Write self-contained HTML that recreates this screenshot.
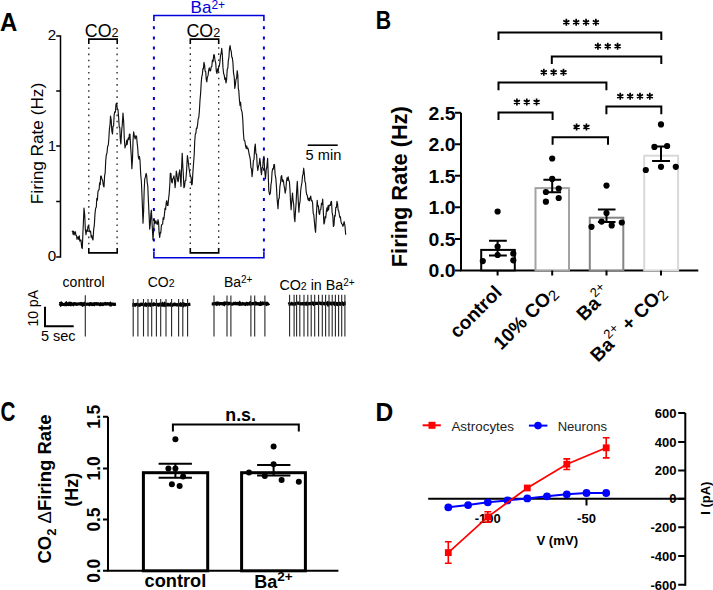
<!DOCTYPE html>
<html><head><meta charset="utf-8"><style>
html,body{margin:0;padding:0;background:#fff;}
svg{display:block;font-family:"Liberation Sans", sans-serif;}
</style></head><body>
<svg width="713" height="590" viewBox="0 0 713 590">
<rect width="713" height="590" fill="#fff"/>

<text transform="translate(0,31.4) scale(0.9,1)" font-size="26.6" font-weight="bold">A</text>
<path d="M60.5,35.2 V257.8 M56.2,35.9 H60.5 M56.2,91 H60.5 M56.2,146 H60.5 M56.2,201.5 H60.5 M56.2,257.1 H60.5" stroke="#000" stroke-width="1.5" fill="none"/>
<g font-size="15.2" text-anchor="end"><text x="56.3" y="40.1">2</text><text x="56.3" y="150.9">1</text><text x="56.3" y="261.3">0</text></g>
<text transform="translate(43,143.5) rotate(-90)" text-anchor="middle" font-size="17.2">Firing Rate (Hz)</text>
<text x="84.8" y="36.9" font-size="17.8">CO<tspan font-size="12.6">2</tspan></text>
<text x="186.5" y="36.8" font-size="17.8">CO<tspan font-size="12.6">2</tspan></text>
<path d="M88.8,44 V39.1 H117.2 V44 M88.8,248 V252.9 H117.2 V248 M190.3,44 V39.1 H218.7 V44 M190.3,248 V252.9 H218.7 V248" stroke="#000" stroke-width="1.6" fill="none"/>
<path d="M88.8,47.5 V248 M117.1,47.5 V248 M190.3,47.2 V248 M218.7,47.2 V248" stroke="#222" stroke-width="1.3" stroke-dasharray="1.6 4.5" fill="none"/>
<text x="190.6" y="13.3" font-size="17" fill="#0000d8">Ba<tspan font-size="12" dy="-4.3">2+</tspan></text>
<path d="M153.9,21 V15.5 H263.9 V21 M153.9,252 V257.8 H263.9 V252" stroke="#0000d8" stroke-width="1.6" fill="none"/>
<path d="M153.9,26.3 V252 M263.9,26.3 V252" stroke="#0000d8" stroke-width="2" stroke-dasharray="3 7.1" fill="none"/>
<path d="M72.0,232.0 L72.6,231.2 L73.1,234.3 L73.7,231.2 L74.2,234.9 L74.8,233.0 L75.4,231.8 L75.9,235.3 L76.5,235.4 L77.0,239.3 L77.6,237.5 L78.2,236.9 L78.7,239.5 L79.3,235.8 L79.8,241.2 L80.4,240.0 L81.0,240.1 L81.7,247.4 L82.3,248.6 L82.9,232.9 L83.4,222.3 L84.0,208.0 L84.7,214.8 L85.3,228.6 L86.0,234.7 L86.7,230.0 L87.3,231.3 L88.0,226.0 L88.7,225.8 L89.3,230.5 L90.0,232.0 L90.6,231.1 L91.2,237.2 L91.8,235.6 L92.4,238.8 L93.0,240.0 L93.7,229.2 L94.3,225.7 L95.0,213.6 L95.7,208.0 L96.3,207.2 L96.8,198.4 L97.4,200.2 L97.9,192.2 L98.5,190.0 L99.1,189.8 L99.6,182.8 L100.2,184.6 L100.7,176.0 L101.3,176.0 L102.0,179.3 L102.7,180.8 L103.3,185.2 L104.0,187.0 L104.6,175.9 L105.2,172.6 L105.7,160.9 L106.3,155.0 L107.0,152.8 L107.6,146.6 L108.3,145.0 L108.8,139.2 L109.4,129.2 L110.0,125.2 L110.5,116.0 L111.2,120.0 L111.8,130.9 L112.5,134.0 L113.0,126.2 L113.6,125.9 L114.2,114.6 L114.7,111.8 L115.4,112.2 L116.0,104.0 L116.7,103.4 L117.3,108.7 L118.0,109.7 L118.6,117.0 L119.2,126.8 L119.8,127.6 L120.3,139.2 L120.9,144.0 L121.6,131.3 L122.3,124.2 L123.0,113.0 L123.7,122.0 L124.3,138.3 L125.0,148.0 L125.6,145.2 L126.1,145.2 L126.7,140.2 L127.2,144.5 L127.8,139.7 L128.3,137.8 L128.9,139.6 L129.4,134.1 L130.0,134.2 L130.6,146.4 L131.3,156.0 L131.9,168.6 L132.5,158.9 L133.0,141.3 L133.6,131.9 L134.4,135.9 L135.2,139.0 L135.9,135.7 L136.6,136.6 L137.2,143.8 L137.7,147.7 L138.3,156.8 L138.9,159.2 L139.4,156.3 L140.0,160.3 L140.7,174.1 L141.4,181.7 L142.2,200.7 L143.0,223.2 L143.6,211.8 L144.1,192.7 L144.7,179.3 L145.4,176.9 L146.1,173.4 L146.7,175.7 L147.2,182.5 L147.8,186.4 L148.5,203.0 L149.1,215.2 L149.7,229.2 L150.3,224.3 L150.8,214.5 L151.4,210.2 L152.2,225.8 L153.0,239.8 L153.7,229.3 L154.4,219.7 L155.1,223.7 L155.9,220.8 L156.6,223.2 L157.3,224.5 L158.0,219.7 L158.6,222.7 L159.1,233.0 L159.7,237.5 L160.3,232.6 L160.8,232.8 L161.4,225.5 L162.0,224.4 L162.6,224.1 L163.2,217.7 L163.8,219.4 L164.4,214.9 L165.0,208.3 L165.6,209.6 L166.2,202.7 L166.8,200.7 L167.4,205.4 L168.0,205.4 L168.6,198.5 L169.2,193.6 L169.8,184.7 L170.3,173.4 L170.9,173.4 L171.6,181.5 L172.2,182.9 L172.8,178.6 L173.3,178.5 L173.9,175.8 L174.5,180.2 L175.1,187.6 L175.7,181.3 L176.3,171.0 L176.9,174.2 L177.6,180.2 L178.2,181.7 L179.0,173.6 L179.8,169.8 L180.4,178.6 L181.0,186.4 L181.6,167.7 L182.2,153.2 L182.8,166.3 L183.3,173.9 L183.9,187.6 L184.5,186.6 L185.2,180.5 L185.8,180.5 L186.6,170.5 L187.4,155.6 L188.2,161.2 L188.9,167.5 L189.7,172.7 L190.5,177.0 L191.1,177.1 L191.6,184.8 L192.2,184.1 L192.9,172.4 L193.6,162.7 L194.2,154.8 L194.7,141.7 L195.3,134.2 L195.9,133.1 L196.4,128.1 L197.0,128.3 L197.6,124.7 L198.2,118.7 L198.8,117.5 L199.4,110.8 L200.0,100.3 L200.6,93.6 L201.2,82.9 L201.8,76.3 L202.3,75.1 L202.9,68.6 L203.4,68.9 L204.0,62.4 L204.6,65.1 L205.1,71.2 L205.7,71.5 L206.2,79.1 L206.8,82.0 L207.4,77.1 L208.1,75.4 L208.7,69.8 L209.3,67.8 L210.0,71.0 L210.6,70.7 L211.2,66.8 L211.8,66.7 L212.4,60.1 L213.1,61.7 L213.7,54.8 L214.3,54.9 L215.0,60.3 L215.7,62.9 L216.3,71.0 L217.0,73.5 L217.6,68.8 L218.2,71.4 L218.7,66.9 L219.3,66.0 L219.9,62.3 L220.5,55.4 L221.1,53.7 L221.7,48.4 L222.3,54.1 L223.0,67.9 L223.6,73.5 L224.2,75.0 L224.8,79.3 L225.4,77.9 L226.0,82.9 L226.6,79.7 L227.2,69.6 L227.8,68.2 L228.3,60.9 L228.9,57.4 L229.5,48.3 L230.1,45.6 L230.7,50.0 L231.2,51.0 L231.8,57.2 L232.3,57.5 L232.9,62.4 L233.5,72.6 L234.2,76.8 L234.8,88.4 L235.4,84.7 L236.0,79.2 L236.6,78.2 L237.2,70.7 L237.8,75.1 L238.3,88.3 L238.8,90.8 L239.4,99.6 L240.0,105.5 L240.6,102.2 L241.1,108.9 L241.7,110.8 L242.2,112.9 L242.8,120.0 L243.4,132.7 L244.0,140.0 L244.8,140.8 L245.6,146.0 L246.2,148.3 L246.7,145.9 L247.2,148.8 L247.8,148.0 L248.4,149.8 L249.1,154.0 L249.7,156.3 L250.3,159.4 L250.9,167.6 L251.5,168.9 L252.1,176.6 L252.7,170.5 L253.4,160.6 L254.0,159.4 L254.7,147.5 L255.3,144.0 L255.9,153.5 L256.6,154.3 L257.2,165.8 L257.8,170.5 L258.5,166.1 L259.1,164.8 L259.8,158.3 L260.4,162.9 L260.9,170.3 L261.5,174.6 L262.1,167.8 L262.7,167.3 L263.3,159.4 L263.9,156.3 L264.7,170.5 L265.5,178.6 L266.2,169.8 L266.9,166.4 L267.6,158.3 L268.2,173.5 L268.8,190.8 L269.6,194.7 L270.4,193.1 L271.0,184.3 L271.5,181.5 L272.1,171.8 L272.7,168.7 L273.3,169.1 L273.9,164.5 L274.5,164.6 L275.1,174.4 L275.8,178.1 L276.4,186.0 L277.2,199.9 L278.0,208.6 L278.6,199.2 L279.2,198.4 L279.9,186.7 L280.5,183.2 L281.1,176.5 L281.7,175.6 L282.3,181.7 L282.9,179.7 L283.5,181.3 L284.1,186.3 L284.6,188.1 L285.2,193.1 L285.8,189.8 L286.5,181.3 L287.1,177.7 L287.7,180.3 L288.2,176.9 L288.8,180.7 L289.4,181.3 L290.0,190.3 L290.5,201.0 L291.1,209.8 L291.8,200.8 L292.5,193.1 L293.1,200.7 L293.7,204.2 L294.3,217.3 L294.9,221.6 L295.5,211.0 L296.1,203.2 L296.7,190.2 L297.3,181.3 L298.1,197.9 L298.9,212.1 L299.5,204.3 L300.1,201.2 L300.7,190.5 L301.3,186.0 L301.9,182.9 L302.5,176.2 L303.1,173.9 L303.7,168.2 L304.3,173.2 L304.9,181.4 L305.5,182.8 L306.1,190.8 L306.7,194.6 L307.2,195.0 L307.8,198.7 L308.4,200.3 L309.0,198.1 L309.5,200.8 L310.1,197.9 L310.7,196.1 L311.4,200.9 L312.0,200.3 L312.6,203.0 L313.2,213.1 L313.8,214.7 L314.4,221.6 L315.0,228.3 L315.6,232.3 L316.4,214.6 L317.2,200.3 L317.8,206.2 L318.4,205.9 L319.0,213.3 L319.6,214.5 L320.2,209.8 L320.8,209.4 L321.5,203.4 L322.1,204.5 L322.7,199.1 L323.3,211.0 L323.9,224.0 L324.5,222.6 L325.1,216.5 L325.7,217.9 L326.3,212.1 L326.9,207.9 L327.5,211.1 L328.1,205.6 L328.6,210.0 L329.2,205.1 L329.8,205.0 L330.4,205.4 L330.9,201.9 L331.5,201.4 L332.1,212.4 L332.8,215.8 L333.4,226.4 L334.0,225.1 L334.6,215.5 L335.2,216.1 L335.8,207.3 L336.4,207.5 L337.0,201.4 L337.6,204.1 L338.1,210.0 L338.7,210.9 L339.3,214.5 L339.9,217.6 L340.4,216.7 L341.0,221.6 L341.6,223.6 L342.3,224.2 L342.9,226.4 L343.5,224.6 L344.1,221.6 L344.9,225.3 L345.7,234.7" stroke="#111" stroke-width="1.15" fill="none" stroke-linejoin="round"/>
<path d="M307.7,145.2 H337.7" stroke="#000" stroke-width="1.6"/>
<text x="305.6" y="159.6" font-size="14.6">5 min</text>
<g font-size="14">
<text x="62.6" y="287.2">control</text>
<text x="147.7" y="287.2">CO<tspan font-size="10.5">2</tspan></text>
<text x="223.9" y="287.2">Ba<tspan font-size="10" dy="-4">2+</tspan></text>
<text x="279.4" y="290.3" font-size="14.3">CO<tspan font-size="10.5">2</tspan> in Ba<tspan font-size="10" dy="-4">2+</tspan></text>
</g>
<path d="M59.3,303.7 L60.0,303.5 L60.7,304.5 L61.4,303.6 L62.1,304.5 L62.8,304.3 L63.5,304.5 L64.2,304.6 L64.9,304.2 L65.6,304.5 L66.3,303.5 L67.0,304.4 L67.7,304.1 L68.4,304.4 L69.1,303.6 L69.8,304.4 L70.5,304.6 L71.2,303.6 L71.9,303.9 L72.6,304.2 L73.3,304.5 L74.0,303.8 L74.7,303.7 L75.4,303.8 L76.1,304.2 L76.8,304.4 L77.5,304.0 L78.2,303.9 L78.9,304.0 L79.6,303.9 L80.3,304.0 L81.0,303.6 L81.7,304.1 L82.4,304.7 L83.1,304.0 L83.8,304.4 L84.5,303.7 L85.2,304.3 L85.9,304.4 L86.6,304.3 L87.3,304.1 L88.0,304.1 L88.7,304.3 L89.4,304.6 L90.1,303.7 L90.8,303.6 L91.5,304.4 L92.2,304.6 L92.9,304.1 L93.6,304.0 L94.3,304.4 L95.0,303.7 L95.7,303.8 L96.4,303.7 L97.1,304.2 L97.8,303.9 L98.5,303.8 L99.2,304.3 L99.9,304.6 L100.6,303.9 L101.3,304.3 L102.0,304.0 L102.7,304.5 L103.4,304.2 L104.1,303.8 L104.8,303.8 L105.5,303.5 L106.2,304.1 L106.9,304.0 L107.6,303.7 L108.3,303.9 L109.0,303.9 L109.7,304.4 L110.4,303.7 L111.1,304.7 L111.8,304.1 L112.5,304.2 L113.2,304.1 L113.9,304.5 L114.6,304.5 L115.3,304.2 L116.0,304.1" stroke="#000" stroke-width="3.2" fill="none"/>
<path d="M132.3,304.9 L133.0,305.0 L133.7,304.5 L134.4,304.9 L135.1,305.2 L135.8,304.6 L136.5,304.3 L137.2,304.3 L137.9,304.9 L138.6,304.8 L139.3,305.2 L140.0,305.0 L140.7,304.3 L141.4,304.2 L142.1,304.3 L142.8,304.2 L143.5,304.8 L144.2,305.0 L144.9,305.1 L145.6,304.3 L146.3,305.0 L147.0,304.4 L147.7,304.5 L148.4,304.9 L149.1,304.1 L149.8,304.1 L150.5,305.0 L151.2,304.4 L151.9,304.4 L152.6,304.7 L153.3,304.8 L154.0,304.0 L154.7,304.4 L155.4,304.5 L156.1,304.6 L156.8,304.3 L157.5,304.7 L158.2,305.1 L158.9,304.5 L159.6,304.7 L160.3,304.1 L161.0,304.3 L161.7,304.8 L162.4,304.1 L163.1,305.1 L163.8,305.1 L164.5,304.1 L165.2,305.1 L165.9,304.4 L166.6,304.9 L167.3,304.9 L168.0,304.4 L168.7,304.8 L169.4,304.8 L170.1,305.0 L170.8,304.3 L171.5,304.9 L172.2,305.2 L172.9,304.8 L173.6,304.6 L174.3,304.1 L175.0,304.6 L175.7,304.4 L176.4,304.9 L177.1,304.8 L177.8,304.7 L178.5,304.2 L179.2,304.8 L179.9,304.8 L180.6,304.2 L181.3,305.1 L182.0,304.8 L182.7,304.1 L183.4,305.1 L184.1,304.2 L184.8,304.4 L185.5,304.9 L186.2,304.7 L186.9,304.7 L187.6,304.8 L188.3,304.5 L189.0,304.4 L189.7,304.2 L190.4,304.1" stroke="#000" stroke-width="3.2" fill="none"/>
<path d="M211.7,304.0 L212.4,304.0 L213.1,303.8 L213.8,304.0 L214.5,303.5 L215.2,303.4 L215.9,303.6 L216.6,304.1 L217.3,303.2 L218.0,303.7 L218.7,303.4 L219.4,304.0 L220.1,303.5 L220.8,303.5 L221.5,303.6 L222.2,303.7 L222.9,304.0 L223.6,303.5 L224.3,304.1 L225.0,303.2 L225.7,303.4 L226.4,303.2 L227.1,303.2 L227.8,304.0 L228.5,304.0 L229.2,303.3 L229.9,303.3 L230.6,303.6 L231.3,304.0 L232.0,304.1 L232.7,304.0 L233.4,303.8 L234.1,303.3 L234.8,303.6 L235.5,303.3 L236.2,303.7 L236.9,303.8 L237.6,303.3 L238.3,303.4 L239.0,304.0 L239.7,303.1 L240.4,304.1 L241.1,304.2 L241.8,304.2 L242.5,303.6 L243.2,303.8 L243.9,303.8 L244.6,303.9 L245.3,304.3 L246.0,303.9 L246.7,303.5 L247.4,304.1 L248.1,303.7 L248.8,303.8 L249.5,304.0 L250.2,303.1 L250.9,304.0 L251.6,303.9 L252.3,303.7 L253.0,303.7 L253.7,303.7 L254.4,303.3 L255.1,303.7 L255.8,303.1 L256.5,303.7 L257.2,303.9 L257.9,303.6 L258.6,303.8 L259.3,304.3 L260.0,304.2 L260.7,303.3 L261.4,304.1 L262.1,303.8 L262.8,303.2 L263.5,303.5 L264.2,303.4 L264.9,303.2 L265.6,303.7 L266.3,304.2 L267.0,303.5 L267.7,304.1 L268.4,303.9 L269.1,303.3" stroke="#000" stroke-width="3.2" fill="none"/>
<path d="M288.3,304.1 L289.0,303.8 L289.7,304.2 L290.4,304.0 L291.1,304.0 L291.8,303.5 L292.5,304.1 L293.2,304.2 L293.9,304.1 L294.6,303.6 L295.3,304.0 L296.0,303.7 L296.7,303.2 L297.4,303.2 L298.1,303.2 L298.8,303.3 L299.5,303.3 L300.2,303.7 L300.9,303.9 L301.6,303.7 L302.3,303.6 L303.0,303.9 L303.7,303.5 L304.4,303.7 L305.1,304.0 L305.8,303.6 L306.5,303.3 L307.2,304.2 L307.9,304.0 L308.6,303.5 L309.3,303.5 L310.0,303.7 L310.7,303.8 L311.4,303.4 L312.1,303.1 L312.8,303.4 L313.5,304.0 L314.2,303.3 L314.9,303.7 L315.6,303.3 L316.3,303.4 L317.0,303.3 L317.7,303.6 L318.4,303.3 L319.1,303.1 L319.8,303.2 L320.5,303.3 L321.2,303.7 L321.9,303.2 L322.6,303.1 L323.3,303.6 L324.0,303.6 L324.7,303.9 L325.4,303.2 L326.1,303.6 L326.8,303.6 L327.5,303.1 L328.2,304.3 L328.9,303.4 L329.6,303.2 L330.3,303.7 L331.0,303.3 L331.7,303.8 L332.4,303.5 L333.1,303.2 L333.8,303.2 L334.5,304.0 L335.2,303.4 L335.9,304.0 L336.6,303.7 L337.3,304.2 L338.0,303.5 L338.7,303.4 L339.4,303.4 L340.1,304.1 L340.8,303.9 L341.5,303.5 L342.2,303.2 L342.9,303.9 L343.6,304.3 L344.3,303.8 L345.0,303.1 L345.7,303.1" stroke="#000" stroke-width="3.2" fill="none"/>
<path d="M85.3,295.3 V336.4 M133.2,299 V336.6 M137.9,299 V336.6 M143.5,299 V336.6 M148,299 V336.6 M151.7,299 V336.6 M156.4,299 V336.6 M160.7,299 V336.6 M166,299 V336.6 M171.6,299 V336.6 M178.6,299 V336.6 M182.8,299 V336.6 M187.6,299 V336.6 M214,295.4 V336.4 M227,295.4 V336.4 M230.9,295.4 V336.4 M250.9,295.4 V336.4 M254.7,295.4 V336.4 M264.9,295.4 V336.4 M289.6,294.8 V336.4 M294.1,294.8 V336.4 M296.6,294.8 V336.4 M299.8,294.8 V336.4 M304,294.8 V336.4 M307.8,294.8 V336.4 M311.2,294.8 V336.4 M314.7,294.8 V336.4 M318.6,294.8 V336.4 M322.3,294.8 V336.4 M325.6,294.8 V336.4 M329,294.8 V336.4 M332.2,294.8 V336.4 M335.4,294.8 V336.4 M338.6,294.8 V336.4 M341.7,294.8 V336.4 M344.9,294.8 V336.4 " stroke="#262626" stroke-width="1.1" fill="none"/>
<path d="M45,306.7 V326.3 H73.7" stroke="#000" stroke-width="2" fill="none"/>
<text transform="translate(38,308.3) rotate(-90)" text-anchor="middle" font-size="14">10 pA</text>
<text x="40.9" y="340.7" font-size="14.5">5 sec</text>
<text transform="translate(375.8,28.6) scale(0.82,1)" font-size="26" font-weight="bold">B</text>
<path d="M461,112.8 V270.4 H698.3" stroke="#000" stroke-width="2" fill="none"/>
<path d="M455,112.8 H461 M455,144.3 H461 M455,175.8 H461 M455,207.3 H461 M455,238.9 H461 M455,270.4 H461 " stroke="#000" stroke-width="2"/>
<g font-size="17.6" font-weight="bold" text-anchor="end"><text x="455.6" y="119.8" textLength="27" lengthAdjust="spacingAndGlyphs">2.5</text><text x="455.6" y="151.3" textLength="27" lengthAdjust="spacingAndGlyphs">2.0</text><text x="455.6" y="182.8" textLength="27" lengthAdjust="spacingAndGlyphs">1.5</text><text x="455.6" y="214.3" textLength="27" lengthAdjust="spacingAndGlyphs">1.0</text><text x="455.6" y="245.9" textLength="27" lengthAdjust="spacingAndGlyphs">0.5</text><text x="455.6" y="277.4" textLength="27" lengthAdjust="spacingAndGlyphs">0.0</text></g>
<text transform="translate(406.7,186.7) rotate(-90)" text-anchor="middle" font-size="21.5" font-weight="bold" textLength="161" lengthAdjust="spacingAndGlyphs">Firing Rate (Hz)</text>
<rect x="481.2" y="249.9" width="33.6" height="20.5" fill="#fff" stroke="#000" stroke-width="2"/>
<rect x="535.5" y="188.1" width="33.5" height="82.3" fill="#fff" stroke="#a3a3a3" stroke-width="2"/>
<rect x="589.8" y="217.7" width="33.5" height="52.7" fill="#fff" stroke="#858585" stroke-width="2"/>
<rect x="644.2" y="155.7" width="33.9" height="114.7" fill="#fff" stroke="#d9d9d9" stroke-width="2"/>
<path d="M497.6,270.4 V275.6 M552.2,270.4 V275.6 M606.5,270.4 V275.6 M661,270.4 V275.6" stroke="#000" stroke-width="2"/>
<path d="M497.6,240.8 V255.6 M489,240.8 H506.8 M489,255.6 H506.8 M552.2,179.7 V192.2 M543.4,179.7 H561.1 M543.4,192.2 H561.1 M606.5,209.5 V221.9 M597.9,209.5 H615.5 M597.9,221.9 H615.5 M661,146.6 V161 M652.1,146.6 H670 M652.1,161 H670 " stroke="#000" stroke-width="2" fill="none"/>
<g fill="#000"><circle cx="497.6" cy="211.5" r="3.1"/><circle cx="497.6" cy="246.5" r="3.1"/><circle cx="497.6" cy="255" r="3.1"/><circle cx="482.8" cy="261.1" r="3.1"/><circle cx="513.3" cy="253.6" r="3.1"/><circle cx="513.3" cy="260.3" r="3.1"/><circle cx="552.2" cy="158.5" r="3.1"/><circle cx="552.2" cy="178.9" r="3.1"/><circle cx="545.9" cy="192" r="3.1"/><circle cx="558.7" cy="188.5" r="3.1"/><circle cx="558.7" cy="198" r="3.1"/><circle cx="545.9" cy="201.7" r="3.1"/><circle cx="606.5" cy="185.6" r="3.1"/><circle cx="606.5" cy="213" r="3.1"/><circle cx="601.6" cy="221.6" r="3.1"/><circle cx="591.5" cy="226.8" r="3.1"/><circle cx="611.7" cy="225.4" r="3.1"/><circle cx="621.8" cy="222.5" r="3.1"/><circle cx="661" cy="124.4" r="3.1"/><circle cx="654.4" cy="146.9" r="3.1"/><circle cx="667.1" cy="146" r="3.1"/><circle cx="645.8" cy="170" r="3.1"/><circle cx="661" cy="166.8" r="3.1"/><circle cx="675.8" cy="166.8" r="3.1"/></g>
<path d="M498.5,40.1 V32.5 H661.3 V40.1 M551.8,64.1 V56.5 H661.3 V64.1 M498.5,90.19999999999999 V82.6 H606.4 V90.19999999999999 M498.5,120.0 V112.4 H552.6 V120.0 M606.4,114.19999999999999 V106.6 H661.3 V114.19999999999999 M552.6,144.79999999999998 V137.2 H608 V144.79999999999998 " stroke="#000" stroke-width="2" fill="none"/>
<path d="M566.33,25.70 L566.33,18.70 M563.29,23.95 L569.36,20.45 M563.29,20.45 L569.36,23.95 M576.18,25.70 L576.18,18.70 M573.14,23.95 L579.21,20.45 M573.14,20.45 L579.21,23.95 M586.03,25.70 L586.03,18.70 M582.99,23.95 L589.06,20.45 M582.99,20.45 L589.06,23.95 M595.88,25.70 L595.88,18.70 M592.84,23.95 L598.91,20.45 M592.84,20.45 L598.91,23.95 M597.90,49.70 L597.90,42.70 M594.87,47.95 L600.93,44.45 M594.87,44.45 L600.93,47.95 M607.75,49.70 L607.75,42.70 M604.72,47.95 L610.78,44.45 M604.72,44.45 L610.78,47.95 M617.60,49.70 L617.60,42.70 M614.57,47.95 L620.63,44.45 M614.57,44.45 L620.63,47.95 M543.80,75.80 L543.80,68.80 M540.77,74.05 L546.83,70.55 M540.77,70.55 L546.83,74.05 M553.65,75.80 L553.65,68.80 M550.62,74.05 L556.68,70.55 M550.62,70.55 L556.68,74.05 M563.50,75.80 L563.50,68.80 M560.47,74.05 L566.53,70.55 M560.47,70.55 L566.53,74.05 M516.90,105.60 L516.90,98.60 M513.87,103.85 L519.93,100.35 M513.87,100.35 L519.93,103.85 M526.75,105.60 L526.75,98.60 M523.72,103.85 L529.78,100.35 M523.72,100.35 L529.78,103.85 M536.60,105.60 L536.60,98.60 M533.57,103.85 L539.63,100.35 M533.57,100.35 L539.63,103.85 M620.27,99.80 L620.27,92.80 M617.24,98.05 L623.31,94.55 M617.24,94.55 L623.31,98.05 M630.12,99.80 L630.12,92.80 M627.09,98.05 L633.16,94.55 M627.09,94.55 L633.16,98.05 M639.98,99.80 L639.98,92.80 M636.94,98.05 L643.01,94.55 M636.94,94.55 L643.01,98.05 M649.82,99.80 L649.82,92.80 M646.79,98.05 L652.86,94.55 M646.79,94.55 L652.86,98.05 M576.58,130.40 L576.58,123.40 M573.54,128.65 L579.61,125.15 M573.54,125.15 L579.61,128.65 M586.43,130.40 L586.43,123.40 M583.39,128.65 L589.46,125.15 M583.39,125.15 L589.46,128.65 " stroke="#000" stroke-width="1.7" fill="none"/>
<text transform="translate(503,293.5) rotate(-45)" text-anchor="end" font-size="19" font-weight="bold">control</text>
<text transform="translate(558,294) rotate(-45)" text-anchor="end" font-size="19" font-weight="bold">10% CO<tspan font-weight="normal" font-size="15" dy="3">2</tspan></text>
<text transform="translate(612,294) rotate(-45)" text-anchor="end" font-size="19" font-weight="bold">Ba<tspan font-weight="normal" font-size="13" dy="-9">2+</tspan></text>
<text transform="translate(667,294) rotate(-45)" text-anchor="end" font-size="19" font-weight="bold">Ba<tspan font-weight="normal" font-size="13" dy="-9">2+</tspan><tspan dy="9"> + CO</tspan><tspan font-weight="normal" font-size="15" dy="3">2</tspan></text>
<text transform="translate(0.5,420.6) scale(0.77,1)" font-size="26.8" font-weight="bold">C</text>
<path d="M108,416.8 V570.8 H338.4" stroke="#000" stroke-width="2" fill="none"/>
<path d="M103,416.8 H108 M103,468.4 H108 M103,519.6 H108 M103,570.8 H108 " stroke="#000" stroke-width="2"/>
<g font-size="18.5" font-weight="bold" text-anchor="middle"><text transform="translate(100.3,416.8) rotate(-90)" textLength="24" lengthAdjust="spacingAndGlyphs">1.5</text><text transform="translate(100.3,468.4) rotate(-90)" textLength="24" lengthAdjust="spacingAndGlyphs">1.0</text><text transform="translate(100.3,519.6) rotate(-90)" textLength="24" lengthAdjust="spacingAndGlyphs">0.5</text><text transform="translate(100.3,570.8) rotate(-90)" textLength="24" lengthAdjust="spacingAndGlyphs">0.0</text></g>
<text transform="translate(50.8,489) rotate(-90)" text-anchor="middle" font-size="18.5" font-weight="bold">CO<tspan font-size="13" dy="5">2</tspan><tspan dy="-5" font-weight="normal"> Δ</tspan>Firing Rate</text>
<text transform="translate(77.5,489.8) rotate(-90)" text-anchor="middle" font-size="18" font-weight="bold">(Hz)</text>
<rect x="143.4" y="472.7" width="64.3" height="98.1" fill="#fff" stroke="#000" stroke-width="3"/>
<rect x="241.6" y="472.7" width="63.8" height="98.1" fill="#fff" stroke="#000" stroke-width="3"/>
<path d="M175.4,463.8 V477.8 M158.6,463.8 H191.9 M158.6,477.8 H191.9 M273.6,464.9 V475.4 M257.1,464.9 H290.4 M257.1,475.4 H290.4 " stroke="#000" stroke-width="2" fill="none"/>
<g fill="#000"><circle cx="175.4" cy="439.3" r="3"/><circle cx="168.4" cy="468.4" r="3"/><circle cx="175.4" cy="468.4" r="3"/><circle cx="183.1" cy="476.4" r="3"/><circle cx="171.9" cy="484.2" r="3"/><circle cx="179.6" cy="485.9" r="3"/><circle cx="273.6" cy="446.6" r="3"/><circle cx="273.6" cy="464.2" r="3"/><circle cx="249" cy="472.6" r="3"/><circle cx="264.8" cy="476.1" r="3"/><circle cx="281.6" cy="480" r="3"/><circle cx="298.8" cy="481.7" r="3"/></g>
<path d="M172.9,431.6 V424.5 H298.8 V431.6" stroke="#000" stroke-width="2" fill="none"/>
<text x="240.6" y="421.2" text-anchor="middle" font-size="17.8" font-weight="bold">n.s.</text>
<text x="175.4" y="586.5" text-anchor="middle" font-size="18.2" font-weight="bold">control</text>
<text x="254.3" y="587.6" font-size="18" font-weight="bold">Ba<tspan font-size="13.5" dy="-7">2+</tspan></text>
<text transform="translate(375.6,420.7) scale(0.94,1)" font-size="26.2" font-weight="bold">D</text>
<path d="M422.6,425.3 H440.8" stroke="#f00" stroke-width="2"/><rect x="428.5" y="421.8" width="7" height="7" fill="#f00"/>
<text x="451.4" y="430.9" font-size="13.5" textLength="62.6" lengthAdjust="spacingAndGlyphs" fill="#222">Astrocytes</text>
<path d="M528.9,425.6 H547.4" stroke="#00f" stroke-width="2"/><circle cx="538" cy="425.6" r="3.8" fill="#00f"/>
<text x="557.7" y="430.9" font-size="13.5" textLength="49.3" lengthAdjust="spacingAndGlyphs" fill="#222">Neurons</text>
<path d="M428.2,498.7 H685.3 M685.3,412.9 V585.8 M586.5,498.7 V505.4 M487.8,498.7 V505.4" stroke="#000" stroke-width="2" fill="none"/>
<path d="M678.2,412.9 H685.3 M678.2,442 H685.3 M678.2,470.4 H685.3 M678.2,498.7 H685.3 M678.2,527.3 H685.3 M678.2,556 H685.3 M678.2,584.8 H685.3 " stroke="#000" stroke-width="2"/>
<g font-size="13" font-weight="bold" text-anchor="end"><text x="676.5" y="417.6">600</text><text x="676.5" y="446.7">400</text><text x="676.5" y="475.1">200</text><text x="676.5" y="503.4">0</text><text x="676.5" y="532.0">-200</text><text x="676.5" y="560.7">-400</text><text x="676.5" y="589.5">-600</text></g>
<text transform="translate(709.7,498.2) rotate(-90)" text-anchor="middle" font-size="13" font-weight="bold">I (pA)</text>
<g font-size="13" font-weight="bold" text-anchor="middle"><text x="487.8" y="523">-100</text><text x="586.5" y="523">-50</text></g>
<text x="557.3" y="545" text-anchor="middle" font-size="13.2" font-weight="bold">V (mV)</text>
<polyline points="448.3,507.3 468.1,505.1 487.8,502.3 507.5,500.4 527.3,498.4 547.0,496.3 566.8,494.3 586.5,493.0 606.2,493.0" stroke="#00f" stroke-width="2" fill="none"/>
<g fill="#00f"><circle cx="448.3" cy="507.3" r="3.9"/><circle cx="468.1" cy="505.1" r="3.9"/><circle cx="487.8" cy="502.3" r="3.9"/><circle cx="507.5" cy="500.4" r="3.9"/><circle cx="527.3" cy="498.4" r="3.9"/><circle cx="547.0" cy="496.3" r="3.9"/><circle cx="566.8" cy="494.3" r="3.9"/><circle cx="586.5" cy="493.0" r="3.9"/><circle cx="606.2" cy="493.0" r="3.9"/></g>
<polyline points="448.3,552.6 487.8,516.9 527.3,488.0 566.8,464.2 606.2,447.8" stroke="#f00" stroke-width="1.7" fill="none"/>
<path d="M448.3,541.8 V563.3 M444.9,541.8 H451.7 M444.9,563.3 H451.7 M487.8,511.7 V522.1 M484.4,511.7 H491.2 M484.4,522.1 H491.2 M566.8,458.9 V469.5 M563.4,458.9 H570.2 M563.4,469.5 H570.2 M606.2,437.8 V457.9 M602.8,437.8 H609.6 M602.8,457.9 H609.6 " stroke="#f00" stroke-width="1.6" fill="none"/>
<g fill="#f00"><rect x="444.9" y="549.2" width="6.8" height="6.8"/><rect x="484.4" y="513.5" width="6.8" height="6.8"/><rect x="523.9" y="484.6" width="6.8" height="6.8"/><rect x="563.4" y="460.8" width="6.8" height="6.8"/><rect x="602.8" y="444.4" width="6.8" height="6.8"/></g>
</svg></body></html>
